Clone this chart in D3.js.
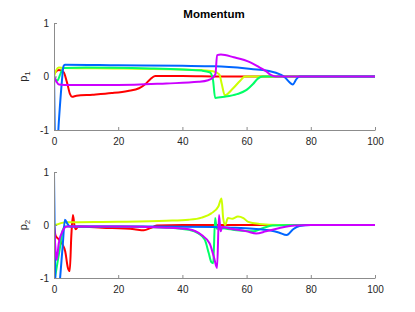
<!DOCTYPE html>
<html>
<head>
<meta charset="utf-8">
<script src="https://cdn.jsdelivr.net/npm/d3@7"></script>
<style>
  body { margin: 0; background: #fff; }
  text { font-family: "Liberation Sans", Arial, sans-serif; }
</style>
</head>
<body>
<div id="chart"></div>
<script>
const width = 415, height = 312;

const colors = ["#ff0000", "#ccff00", "#00ff66", "#0066ff", "#cc00ff"];
const xTicks = [0, 20, 40, 60, 80, 100];
const yTicks = [-1, 0, 1];

// p1 series, [t, value]
const p1Red = [[0,0.05],[1.5,0.12],[3,0.08],[4,-0.1],[5,-0.33],[5.6,-0.38],[7,-0.36],[12,-0.34],[18,-0.31],[23,-0.27],[26.5,-0.22],[28.5,-0.14],[30,-0.05],[31.5,0.01],[40,0.01],[52,0],[100,0]];
const p1Yellow = [[0,0],[0.7,0.12],[1.5,0.17],[3,0.16],[20,0.15],[40,0.13],[46,0.12],[49.5,0.1],[51.5,0.04],[52.3,-0.15],[53.2,-0.35],[55.8,-0.22],[58,-0.08],[59.5,0],[100,0]];
const p1Green = [[0,0],[1,-0.08],[2,0.05],[3,0.16],[10,0.17],[30,0.15],[40,0.13],[46,0.11],[48.5,0.08],[49.5,-0.05],[50.2,-0.4],[53,-0.38],[57,-0.33],[60,-0.25],[62,-0.14],[63.5,-0.04],[65,0],[100,0]];
const p1Blue = [[0,0.1],[0.4,-1.3],[1,-1.3],[1.5,-0.85],[2.3,-0.2],[3,0.2],[3.5,0.22],[20,0.21],[40,0.2],[50,0.19],[60,0.15],[65,0.12],[67.3,0.1],[70.4,0.04],[72,-0.02],[73.2,-0.1],[74.4,-0.15],[75.4,-0.06],[76.4,0],[100,0]];
const p1Magenta = [[0,0],[0.8,-0.1],[1.5,-0.15],[5,-0.16],[20,-0.16],[35,-0.13],[45,-0.1],[48,-0.07],[49.5,-0.02],[50.3,0.05],[50.8,0.4],[52,0.41],[56,0.36],[61,0.27],[64,0.17],[66,0.1],[67.5,0.03],[69,0],[100,0]];

// p2 series
const p2Red = [[0,0],[0.5,-0.2],[1.5,-0.27],[2.5,-0.35],[3.5,-0.5],[4.3,-0.8],[4.9,-0.87],[5.4,-0.2],[5.9,0.19],[6.4,-0.02],[6.8,-0.08],[7.5,-0.03],[15,-0.05],[25,-0.08],[28,-0.1],[30,-0.06],[32,-0.01],[40,0],[100,0]];
const p2Yellow = [[0,0],[1,0.01],[2.5,0.04],[4,0.05],[20,0.06],[35,0.08],[42,0.1],[46,0.14],[49,0.22],[51.2,0.35],[52.2,0.5],[52.7,0.13],[53.3,0],[54.2,0.13],[55.5,0.12],[57.3,0.16],[59,0.13],[60.5,0.06],[64,0.02],[70,0],[100,0]];
const p2Green = [[0,-1.1],[0.7,-0.85],[1.8,-0.45],[2.7,-0.1],[3.5,-0.03],[20,-0.03],[35,-0.05],[42,-0.09],[45,-0.16],[47,-0.28],[48.2,-0.53],[49,-0.7],[49.6,-0.72],[50.2,0.13],[50.7,-0.07],[52,-0.06],[57,-0.1],[62,-0.12],[65,-0.06],[68,-0.01],[75,0],[100,0]];
const p2Blue = [[0,1],[0.6,-1.3],[1.4,-1.35],[1.9,-1],[2.7,-0.4],[3.4,0.1],[4.2,0.02],[5,-0.03],[30,-0.03],[50,-0.04],[55,-0.05],[62,-0.07],[67,-0.1],[70,-0.14],[72.5,-0.19],[74.5,-0.08],[76.5,-0.02],[80,0],[100,0]];
const p2Magenta = [[0,0],[0.4,-0.4],[0.8,-0.66],[1.5,-0.34],[2.8,-0.1],[4,-0.03],[20,-0.03],[35,-0.05],[42,-0.08],[46,-0.19],[48.5,-0.35],[49.8,-0.6],[50.8,-0.81],[51.4,0.19],[51.9,-0.12],[52.4,-0.04],[55,-0.07],[60,-0.12],[63,-0.16],[66,-0.12],[70,-0.06],[75,-0.01],[80,0],[100,0]];

const panels = [
  { label: "1", top: 23, bottom: 130, series: [p1Red, p1Yellow, p1Green, p1Blue, p1Magenta] },
  { label: "2", top: 172, bottom: 278, series: [p2Red, p2Yellow, p2Green, p2Blue, p2Magenta] }
];

const svg = d3.select("#chart").append("svg")
    .attr("width", width)
    .attr("height", height)
    .style("background", "#fff");

const x = d3.scaleLinear().domain([0, 100]).range([54, 375]);

svg.append("text")
    .attr("x", 214)
    .attr("y", 18)
    .attr("text-anchor", "middle")
    .style("font-size", "11.5px")
    .style("font-weight", "bold")
    .text("Momentum");

panels.forEach((p, i) => {
    const y = d3.scaleLinear().domain([-1, 1]).range([p.bottom, p.top]);
    const g = svg.append("g");

    g.append("clipPath").attr("id", "clip" + i)
      .append("rect")
        .attr("x", x(0)).attr("y", p.top)
        .attr("width", x(100) - x(0)).attr("height", p.bottom - p.top);

    const line = d3.line()
        .x(d => x(d[0]))
        .y(d => y(d[1]))
        .curve(d3.curveMonotoneX);

    g.append("g")
        .attr("clip-path", `url(#clip${i})`)
        .selectAll("path")
        .data(p.series)
        .enter().append("path")
        .attr("d", line)
        .attr("fill", "none")
        .attr("stroke", (d, j) => colors[j])
        .attr("stroke-width", 2)
        .attr("stroke-linejoin", "round");

    const xAxis = g.append("g")
        .attr("transform", `translate(0,${p.bottom})`)
        .call(d3.axisBottom(x).tickValues(xTicks).tickSizeInner(-3).tickSizeOuter(0).tickPadding(8));
    const yAxis = g.append("g")
        .attr("transform", `translate(${x(0)},0)`)
        .call(d3.axisLeft(y).tickValues(yTicks).tickSizeInner(-3).tickSizeOuter(0).tickPadding(5).tickFormat(d3.format("d")));

    [xAxis, yAxis].forEach(a => {
        a.select(".domain").attr("stroke", "#8c8c8c");
        a.selectAll(".tick line").attr("stroke", "#8c8c8c");
        a.selectAll(".tick text")
            .attr("fill", "#262626")
            .style("font-size", "10px")
            .style("font-family", "'Liberation Sans', Arial, sans-serif");
    });
    yAxis.selectAll(".tick text").text(d => d < 0 ? "-" + Math.abs(d) : d);

    const lab = g.append("text")
        .attr("transform", `translate(27,${(p.top + p.bottom) / 2}) rotate(-90)`)
        .attr("text-anchor", "middle")
        .attr("fill", "#262626")
        .style("font-size", "11px");
    lab.append("tspan").text("p");
    lab.append("tspan").attr("dy", 3).style("font-size", "8px").text(p.label);
});
</script>
</body>
</html>
